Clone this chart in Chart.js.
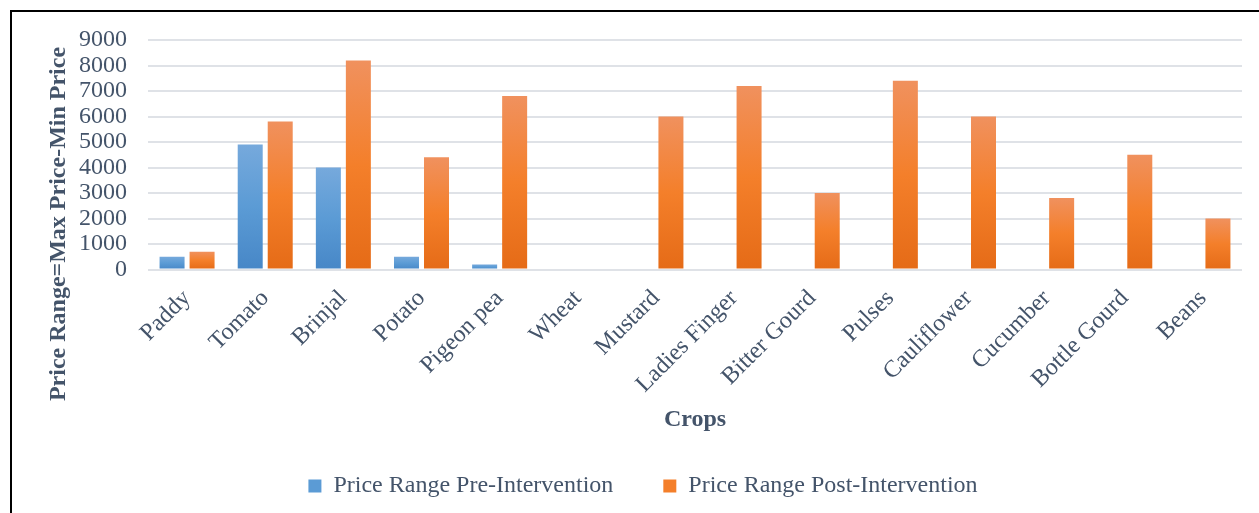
<!DOCTYPE html>
<html>
<head>
<meta charset="utf-8">
<title>Price Range by Crop</title>
<script src="https://cdn.jsdelivr.net/npm/chart.js@4/dist/chart.umd.min.js"></script>
<style>
  html, body { margin: 0; padding: 0; background: #fff; overflow: hidden; width: 1259px; height: 513px; }
  #frame { position: absolute; left: 10px; top: 10px; width: 1300px; height: 600px; border: 2px solid #000; box-sizing: border-box; }
  #wrap { position: absolute; left: 12px; top: 12px; width: 1264px; height: 501px; }
  #wrap canvas { display: block; }
</style>
</head>
<body>
<div id="frame"></div>
<div id="wrap"><canvas id="chart"></canvas></div>
<script>
// Crops and price ranges (max price - min price)
const crops = ['Paddy', 'Tomato', 'Brinjal', 'Potato', 'Pigeon pea', 'Wheat', 'Mustard',
  'Ladies Finger', 'Bitter Gourd', 'Pulses', 'Cauliflower', 'Cucumber', 'Bottle Gourd', 'Beans'];
const preIntervention = [500, 4900, 4000, 500, 200, 0, 0, 0, 0, 0, 0, 0, 0, 0];
const postIntervention = [700, 5800, 8200, 4400, 6800, 0, 6000, 7200, 3000, 7400, 6000, 2800, 4500, 2000];
const yTicks = [0, 1000, 2000, 3000, 4000, 5000, 6000, 7000, 8000, 9000];

const seriesNames = ['Price Range Pre-Intervention', 'Price Range Post-Intervention'];
const yTitle = 'Price Range=Max Price-Min Price';
const xTitle = 'Crops';

const TEXT = '#44546a';
const FONT = '"Liberation Serif", "Times New Roman", serif';
const SIZE = 24;

const blueStops = ['#76a9dc', '#5b9bd5', '#4787c7'];
const orangeStops = ['#f0915e', '#f47f2a', '#e56b17'];

// Vertical gradient per bar, from the bar's top to the zero line
function barFill(stops) {
  return function (c) {
    const chart = c.chart;
    if (!chart.chartArea || c.type !== 'data') return stops[1];
    const y = chart.scales.y;
    const top = y.getPixelForValue(c.raw);
    const base = y.getPixelForValue(0);
    if (base - top < 1) return stops[1];
    const g = chart.ctx.createLinearGradient(0, top, 0, base);
    g.addColorStop(0, stops[0]);
    g.addColorStop(0.5, stops[1]);
    g.addColorStop(1, stops[2]);
    return g;
  };
}

// Rotated y-axis title, centred on the whole chart height
const yTitlePlugin = {
  id: 'yTitle',
  afterDraw(chart) {
    const ctx = chart.ctx;
    ctx.save();
    ctx.translate(47, 212);
    ctx.rotate(-Math.PI / 2);
    ctx.font = 'bold ' + SIZE + 'px ' + FONT;
    ctx.fillStyle = TEXT;
    ctx.textAlign = 'center';
    ctx.textBaseline = 'middle';
    ctx.fillText(yTitle, 0, 0);
    ctx.restore();
  }
};

new Chart(document.getElementById('chart'), {
  type: 'bar',
  data: {
    labels: crops,
    datasets: [
      { label: seriesNames[0], data: preIntervention, backgroundColor: barFill(blueStops),
        categoryPercentage: 0.768, barPercentage: 0.833 },
      { label: seriesNames[1], data: postIntervention, backgroundColor: barFill(orangeStops),
        categoryPercentage: 0.768, barPercentage: 0.833 }
    ]
  },
  options: {
    responsive: true,
    maintainAspectRatio: false,
    animation: false,
    layout: { padding: { top: 28, right: 34, bottom: 5, left: 32 } },
    plugins: {
      tooltip: { enabled: false },
      legend: {
        position: 'bottom',
        labels: {
          color: TEXT,
          font: { family: FONT, size: SIZE },
          boxWidth: 13,
          boxHeight: 13,
          padding: 50,
          generateLabels(chart) {
            return chart.data.datasets.map((ds, i) => ({
              text: ds.label,
              fillStyle: [blueStops, orangeStops][i][1],
              strokeStyle: 'rgba(0,0,0,0)',
              lineWidth: 0,
              fontColor: TEXT,
              datasetIndex: i
            }));
          }
        }
      }
    },
    scales: {
      x: {
        grid: { display: false },
        border: { display: false },
        ticks: {
          color: TEXT,
          font: { family: FONT, size: SIZE },
          minRotation: 45,
          maxRotation: 45,
          autoSkip: false,
          padding: 7
        },
        title: {
          display: true,
          text: xTitle,
          color: TEXT,
          font: { family: FONT, size: SIZE, weight: 'bold' },
          padding: { top: 0, bottom: -10 }
        },
        afterFit(scale) { scale.height = 154.5; }
      },
      y: {
        min: 0,
        max: 9000,
        afterBuildTicks(scale) { scale.ticks = yTicks.map(v => ({ value: v })); },
        grid: { color: '#dfe2e7', lineWidth: 2, drawTicks: false },
        border: { display: false },
        ticks: {
          color: TEXT,
          font: { family: FONT, size: SIZE },
          padding: 21,
          autoSkip: false,
          callback: v => String(v)
        },
        afterFit(scale) {
          scale.width = 104;
          scale.paddingTop = 12;
          scale.paddingBottom = 12;
        }
      }
    }
  },
  plugins: [yTitlePlugin]
});
</script>
</body>
</html>
